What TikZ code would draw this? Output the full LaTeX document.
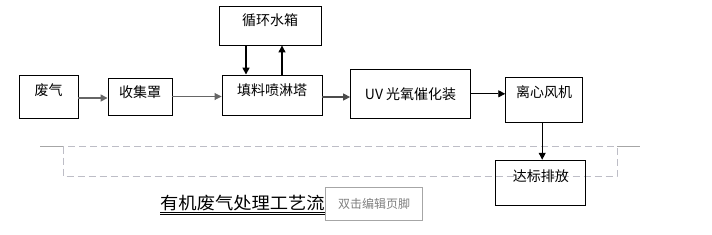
\documentclass[tikz,border=0pt]{standalone}
\usepackage{fontspec}
\setmainfont{Noto Sans CJK SC}
\newfontfamily\titlefont{Noto Sans CJK SC}[FakeStretch=1.075]
\usetikzlibrary{arrows.meta}
\definecolor{pagegray}{HTML}{BDBDC6}
\definecolor{edgegray}{HTML}{A6A6A6}
\begin{document}
\begin{tikzpicture}[x=1pt, y=-1pt]
  \tikzstyle{proc}=[draw, line width=0.9pt, inner sep=0pt, font=\fontsize{14}{16}\selectfont, text height=12pt, text depth=1.4pt]
  \tikzstyle{flow}=[-{Triangle[length=7pt, width=7pt]}, line width=1.2pt]
  \tikzstyle{page}=[draw=pagegray, line width=0.9pt, dash pattern=on 7pt off 4pt]
  \useasboundingbox (0,0) rectangle (712,234);

  % limite do rodape da pagina
  \draw[edgegray, line width=0.9pt] (40,146.5) -- (63,146.5);
  \draw[edgegray, line width=0.9pt] (617,146.5) -- (640,146.5);
  \draw[page] (63,146.5) rectangle (617,176);

  % caixas do processo
  \node[proc, minimum width=59pt, minimum height=43pt, text depth=13.4pt] (feiqi) at (48.5,96.5) {废气};
  \node[proc, minimum width=64pt, minimum height=37pt, text depth=9.4pt] (shouji) at (140,96.5) {收集罩};
  \node[proc, minimum width=102pt, minimum height=39pt, text depth=12.4pt] (xunhuan) at (270,25.5) {循环水箱};
  \node[proc, minimum width=100pt, minimum height=40pt, text depth=11.4pt] (penlin) at (272,95) {填料喷淋塔};
  \node[proc, minimum width=120pt, minimum height=49pt] (uv) at (410.6,93.8) {UV 光氧催化装};
  \node[proc, minimum width=77pt, minimum height=45pt, text depth=17.4pt] (fengji) at (544.2,99.8) {离心风机};
  \node[proc, minimum width=90pt, minimum height=45pt, text depth=15.4pt] (dabiao) at (540.8,182.7) {达标排放};

  % ligacoes
  \draw[flow, black!60, line width=1.6pt] ([yshift=-1.5pt]feiqi.east) -- ([yshift=-1.5pt]feiqi.east -| shouji.west);
  \draw[flow, black!60, line width=0.9pt] (shouji.east) -- (shouji.east -| penlin.west);
  \draw[flow, line width=1.6pt] ([xshift=-24pt]xunhuan.south) -- ([xshift=-24pt]xunhuan.south |- penlin.north);
  \draw[flow] ([xshift=12pt]xunhuan.south |- penlin.north) -- ([xshift=12pt]xunhuan.south);
  \draw[flow, black!70] ([yshift=-2pt]penlin.east) -- ([yshift=-2pt]penlin.east -| uv.west);
  \draw[flow, line width=0.9pt] (uv.east) -- (uv.east -| fengji.west);
  \draw[flow, line width=0.9pt] ([xshift=-2pt]fengji.south) -- ([xshift=-2pt]fengji.south |- dabiao.north);

  % titulo e rodape
  \node[anchor=west, inner sep=0pt, font=\titlefont\fontsize{17}{20}\selectfont] (title) at (160,203.4) {有机废气处理工艺流};
  \draw[line width=0.8pt] ([yshift=-2.8pt]title.base west) -- ([yshift=-2.8pt]title.base east);
  \draw[line width=0.8pt] ([yshift=-4.8pt]title.base west) -- ([yshift=-4.8pt]title.base east);
  \node[draw=edgegray, fill=white, line width=0.9pt, minimum width=97pt, minimum height=33pt, inner sep=0pt, text=black!50, font=\fontsize{12}{14}\selectfont] (footer) at (374,203.6) {双击编辑页脚};
\end{tikzpicture}
\end{document}
